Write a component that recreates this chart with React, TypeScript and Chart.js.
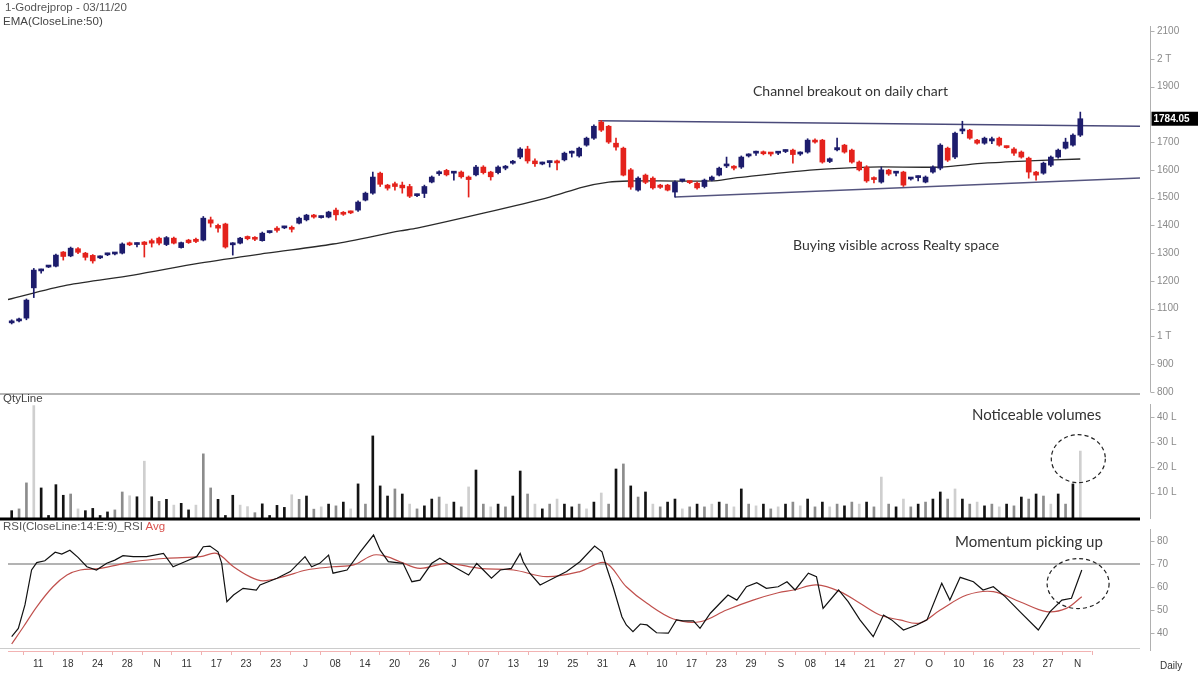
import React, { useEffect, useRef } from "react";
import { Chart, registerables } from "chart.js";
Chart.register(...registerables);

// ---------- DATA ----------
const opens = [1049,1056,1066,1175,1236,1250,1253,1304,1290,1316,1300,1292,1283,1294,1297,1300,1336,1331,1340,1345,1354,1331,1354,1320,1347,1350,1347,1420,1400,1405,1330,1336,1360,1357,1345,1374,1390,1391,1392,1408,1420,1436,1428,1430,1455,1446,1450,1455,1491,1516,1588,1545,1550,1545,1540,1507,1515,1556,1586,1598,1588,1592,1574,1582,1610,1592,1590,1606,1624,1646,1675,1632,1621,1626,1632,1636,1660,1650,1689,1714,1772,1757,1696,1678,1600,1527,1581,1570,1545,1545,1520,1560,1558,1552,1540,1563,1581,1614,1612,1610,1650,1660,1664,1660,1660,1666,1671,1657,1664,1707,1707,1630,1672,1689,1671,1628,1610,1572,1556,1599,1588,1592,1567,1572,1556,1592,1606,1678,1646,1740,1743,1707,1696,1704,1714,1684,1675,1664,1642,1592,1588,1617,1646,1678,1689,1725];
const highs = [1060,1066,1135,1245,1243,1256,1297,1306,1322,1320,1303,1295,1290,1300,1303,1337,1340,1337,1342,1351,1358,1360,1358,1340,1350,1354,1432,1430,1405,1408,1338,1357,1362,1360,1376,1380,1396,1397,1398,1430,1440,1440,1434,1451,1462,1450,1452,1488,1520,1592,1592,1548,1556,1556,1548,1513,1545,1578,1596,1602,1594,1596,1578,1616,1615,1595,1614,1616,1634,1680,1685,1640,1628,1632,1635,1664,1668,1682,1718,1762,1778,1760,1714,1682,1605,1575,1585,1575,1548,1548,1560,1566,1560,1556,1567,1578,1610,1646,1615,1650,1658,1668,1668,1662,1665,1672,1675,1665,1712,1712,1710,1643,1714,1692,1675,1632,1615,1575,1610,1602,1595,1595,1573,1578,1578,1614,1694,1682,1736,1775,1746,1710,1718,1718,1718,1686,1680,1668,1646,1595,1628,1650,1675,1714,1730,1808];
const lows = [1045,1052,1060,1140,1228,1248,1250,1275,1287,1298,1275,1264,1280,1291,1294,1297,1327,1322,1286,1322,1330,1327,1333,1318,1335,1338,1344,1394,1376,1318,1293,1333,1348,1345,1343,1372,1376,1388,1376,1405,1416,1426,1426,1427,1419,1436,1442,1450,1488,1512,1540,1527,1527,1516,1500,1503,1500,1553,1580,1578,1563,1570,1502,1578,1585,1563,1585,1600,1620,1640,1624,1612,1618,1610,1600,1632,1646,1646,1685,1710,1738,1695,1671,1578,1530,1523,1550,1530,1533,1524,1502,1556,1550,1530,1535,1560,1578,1608,1600,1605,1646,1652,1654,1650,1655,1662,1624,1652,1660,1696,1624,1626,1668,1660,1624,1596,1555,1553,1552,1580,1578,1540,1563,1560,1553,1588,1600,1630,1640,1730,1710,1692,1692,1694,1685,1678,1652,1642,1570,1563,1584,1612,1642,1675,1685,1720];
const closes = [1056,1063,1131,1239,1240,1254,1293,1288,1318,1303,1285,1272,1287,1298,1301,1333,1330,1335,1331,1336,1336,1356,1336,1338,1338,1342,1426,1408,1390,1322,1336,1354,1352,1350,1372,1378,1382,1395,1386,1426,1437,1430,1432,1448,1438,1440,1445,1484,1516,1574,1548,1534,1540,1535,1505,1511,1540,1574,1590,1582,1592,1575,1565,1610,1590,1575,1610,1612,1630,1675,1632,1622,1626,1630,1625,1660,1664,1678,1714,1757,1743,1700,1682,1581,1538,1570,1555,1535,1537,1527,1556,1564,1554,1535,1563,1574,1606,1620,1606,1646,1655,1664,1658,1657,1663,1670,1655,1662,1707,1700,1628,1640,1680,1664,1628,1600,1560,1565,1600,1585,1592,1545,1571,1576,1574,1610,1689,1635,1732,1745,1714,1696,1714,1712,1689,1680,1660,1646,1592,1581,1624,1646,1671,1700,1725,1784.05];

// volume in lakhs, and its shade class (0 black, 1 grey, 2 light grey)
const volumes = [2.9,3.6,13.9,44.5,11.9,1.0,13.2,9.0,9.5,3.6,2.9,3.8,1.0,2.4,3.2,10.3,8.8,8.4,22.5,8.4,6.6,7.4,5.1,5.8,3.2,5.1,25.4,11.9,7.4,1.0,9.0,5.1,4.5,2.1,5.6,1.0,5.0,4.2,9.2,7.4,8.7,3.5,4.4,5.5,4.8,6.3,3.6,13.5,5.5,32.5,12.7,8.7,11.5,9.5,5.5,3.6,4.8,7.5,8.3,5.5,6.3,4.4,12.3,19.0,5.5,4.4,5.5,4.4,8.7,18.6,9.5,5.5,3.6,5.5,7.5,5.5,4.4,5.5,3.6,6.3,9.9,5.5,19.4,21.4,12.7,8.3,10.3,5.5,4.4,6.3,7.5,3.6,4.4,5.5,4.4,5.5,6.3,5.5,4.4,11.5,5.5,4.8,5.5,3.6,4.4,5.5,6.3,4.8,7.5,4.4,6.3,4.4,5.5,4.8,6.3,5.5,6.3,4.4,16.2,5.5,4.4,7.5,4.4,5.5,6.3,7.5,10.3,7.5,11.5,7.5,5.5,6.3,4.8,5.5,4.4,5.5,4.8,8.3,7.5,9.5,8.7,5.5,9.5,5.5,13.5,26.5];
const volumeShade = [0,1,1,2,0,0,0,0,1,2,0,0,0,0,1,1,2,0,2,0,1,0,2,0,0,2,1,1,0,0,0,2,2,1,0,0,0,0,2,1,0,1,2,0,1,0,2,0,1,0,0,0,1,0,2,1,0,0,1,2,0,1,2,0,1,2,0,1,0,0,1,2,0,1,2,0,0,1,2,0,2,1,0,1,0,1,0,2,1,0,0,2,1,0,1,2,0,1,2,0,1,2,0,1,2,0,1,2,0,1,0,2,1,0,1,2,0,1,2,1,0,2,1,0,1,0,0,1,2,0,1,2,0,1,2,0,1,0,1,0,1,2,0,1,0,2];

// EMA(50) read at [candle index, price]
const emaPoints = [[-0.5,1133],[7.5,1185],[16.5,1221],[25.5,1264],[34.6,1300],[43.6,1333],[52.7,1380],[55,1390],[64,1444],[73,1502],[77.5,1538],[81,1556],[84,1560],[88,1560],[95,1560],[98,1570],[108.3,1599],[116.5,1610],[126,1610],[132,1624],[138,1632],[145,1639]];
// channel lines [candle index, price]
const channelTop = [[79.6,1777],[153.1,1757]];
const channelBottom = [[90,1502],[153.1,1571]];

// RSI(14) and its 9-period average, [candle index, value]
const rsiPoints = [[0,38.4],[0.9,42],[1.8,52.2],[2.7,67.4],[3.4,70.6],[4.5,71.4],[5.9,75.1],[6.8,74.3],[7.9,76],[9,72.9],[10.2,68.8],[11.5,67.4],[12.9,70.3],[14,71.7],[15.1,73.6],[16.5,73.2],[18.3,73.2],[20.6,74.6],[21.9,68.8],[23.5,71],[25.1,73.2],[26,77.5],[26.9,77.8],[28,75.3],[28.5,70.3],[28.8,63],[29.2,53.6],[30.1,56.5],[31.4,59.4],[33.2,58.7],[33.7,60.9],[36,63.8],[37.8,66.7],[39.8,73.2],[40.7,68.8],[41.8,70.3],[43,73.9],[43.6,66],[45.5,67.4],[47.3,75.3],[49.1,82.6],[50,76],[51.1,71],[53.1,70.3],[54.3,62.3],[55.4,63],[57,70.3],[58.1,72.5],[59.2,70.3],[60.8,67.4],[62,65.2],[63.1,70.3],[64,67.4],[65.1,63.8],[66.3,67.4],[67.8,68.1],[69,74.6],[69.4,71],[70.3,66],[71.7,60.9],[73.5,63.8],[75.3,66.7],[77.1,71],[79.1,77.8],[80.1,75.3],[80.7,68.8],[81.6,60.1],[82.8,47.1],[83.4,43.5],[84.3,40.6],[85.3,43.9],[86.2,43.5],[87.5,40.1],[89.1,39.9],[90.2,45.7],[91.1,45.3],[92.5,45.3],[93.4,42],[94.8,48.6],[96.3,53.6],[97.2,56.5],[98.4,54.3],[99.7,60.1],[101.1,61.9],[102.4,59.4],[104,60.1],[105.2,62.3],[106.3,58.7],[108.1,66],[109.2,64.5],[110.1,50.7],[112.2,58.7],[113.5,53.6],[115.1,45.7],[116.9,38.4],[118.3,47.8],[119.4,45.7],[121,41.3],[122.8,43.5],[124.2,45.7],[126.2,61.6],[127.3,54.3],[128.7,64.2],[130.5,62.3],[131.8,58.7],[133.2,60.1],[134.8,55.8],[136.8,49.3],[139.3,41.3],[140.9,49.3],[142.5,54.3],[143.8,55.1],[145.2,67.4]];
const rsiAvgPoints = [[0,35.2],[1.6,42.7],[3.4,51.4],[5.6,60.1],[7.5,65.2],[9.3,67.4],[12,68.1],[16.5,71],[21,72.5],[25.6,73.2],[27.8,74.6],[30.1,68.8],[32.3,64.5],[34.1,62.7],[36.9,64.5],[40,67.4],[43.6,68.8],[46.4,69.6],[49.1,73.9],[50.9,73.2],[52.7,71],[55.4,68.1],[59,70.3],[63.5,68.1],[68.1,67.4],[72.6,64.5],[77.1,66.7],[80.5,70.6],[83.4,60.1],[86.2,52.9],[89.8,46.1],[93.4,44.9],[97,50],[100.6,54.3],[104,57.5],[106.1,58.7],[109.2,60.9],[112.4,58],[115.1,52.9],[117.8,47.8],[120.5,45.7],[123.2,44.3],[126,50],[129.6,56.5],[133.2,58],[136.8,53.6],[140.4,49.3],[143.1,50.7],[145.2,55.8]];
const rsiLevel = 70;

const dateLabels = ["11","18","24","28","N","11","17","23","23","J","08","14","20","26","J","07","13","19","25","31","A","10","17","23","29","S","08","14","21","27","O","10","16","23","27","N"];
const priceTicks = [800,900,1000,1100,1200,1300,1400,1500,1600,1700,1900,2000,2100];
const volumeTicks = [10,20,30,40];
const rsiTicks = [40,50,60,70,80];

// ---------- STYLE ----------
const BULL = "#1d1c6c";
const BEAR = "#e4221c";
const SHADES = ["#141414", "#8c8c8c", "#cfcfcf"];
const X_MIN = -0.5;
const X_MAX = 153.1;
const TICK_FONT = { family: "'Liberation Sans', Arial, sans-serif", size: 10 };

function candleColor(i: number) {
  return closes[i] >= opens[i] ? BULL : BEAR;
}
const pts = (arr: number[][]) => arr.map(([x, y]) => ({ x, y }));

const noPad = (s: any) => {
  s.paddingTop = 0; s.paddingBottom = 0; s.paddingLeft = 0; s.paddingRight = 0;
};

const decor = {
  id: "decor",
  afterDraw(chart: any) {
    const { ctx, chartArea, scales } = chart;
    const xs = scales.x, yP = scales.yP, yV = scales.yV, yR = scales.yR;
    const line = (x1: number, y1: number, x2: number, y2: number) => {
      ctx.beginPath(); ctx.moveTo(x1, y1); ctx.lineTo(x2, y2); ctx.stroke();
    };
    ctx.save();
    // panel separators
    ctx.strokeStyle = "#b5b5b5"; ctx.lineWidth = 2;
    line(0, yP.bottom, chartArea.right, yP.bottom);
    ctx.strokeStyle = "#000"; ctx.lineWidth = 3;
    line(0, yV.bottom, chartArea.right, yV.bottom);
    ctx.strokeStyle = "#cccccc"; ctx.lineWidth = 1;
    line(0, yR.bottom - 2.5, chartArea.right, yR.bottom - 2.5);
    ctx.strokeStyle = "#f2b3b3"; ctx.lineWidth = 1;
    line(chartArea.left, yR.bottom + 0.5, xs.getPixelForValue(146.5), yR.bottom + 0.5);

    // right axis lines with small tick marks
    const ax = chartArea.right + 10.5;
    const axes: [any, number, number][] = [[yP, 18, 2], [yV, 10, 0], [yR, 10, 0]];
    ctx.strokeStyle = "#b0b0b0"; ctx.lineWidth = 1;
    for (const [s, t, b] of axes) {
      line(ax, s.top + t, ax, s.bottom - b);
      for (const tk of s.ticks) {
        const py = Math.round(s.getPixelForValue(tk.value)) + 0.5;
        line(ax, py, ax + 4, py);
      }
    }

    // last price label
    const last = closes[closes.length - 1];
    const py = yP.getPixelForValue(last);
    ctx.fillStyle = "#000";
    ctx.fillRect(ax + 1, py - 7, 1198 - ax - 1, 14);
    ctx.fillStyle = "#fff";
    ctx.font = "bold 10px 'Liberation Sans', Arial, sans-serif";
    ctx.textBaseline = "middle";
    ctx.textAlign = "left";
    ctx.fillText(last.toFixed(2), ax + 3, py + 0.5);

    // dashed ellipses
    ctx.strokeStyle = "#222"; ctx.lineWidth = 1.2; ctx.setLineDash([4, 3]);
    ctx.beginPath();
    ctx.ellipse(xs.getPixelForValue(145) - 2, yV.getPixelForValue(23.5), 27, 24, 0, 0, Math.PI * 2);
    ctx.stroke();
    ctx.beginPath();
    ctx.ellipse(xs.getPixelForValue(144.7), yR.getPixelForValue(61.5), 31, 25, 0, 0, Math.PI * 2);
    ctx.stroke();
    ctx.restore();
  },
};

export default function App() {
  const ref = useRef<HTMLCanvasElement | null>(null);

  useEffect(() => {
    if (!ref.current) return;
    const idx = opens.map((_, i) => i);
    const chart = new Chart(ref.current, {
      type: "bar",
      data: {
        datasets: [
          {
            type: "bar", label: "body", yAxisID: "yP", grouped: false,
            data: idx.map((i) => ({ x: i, y: [opens[i], closes[i]] })) as any,
            backgroundColor: idx.map(candleColor), barThickness: 5, minBarLength: 2,
          },
          {
            type: "bar", label: "wick", yAxisID: "yP", grouped: false,
            data: idx.map((i) => ({ x: i, y: [lows[i], highs[i]] })) as any,
            backgroundColor: idx.map(candleColor), barThickness: 1,
          },
          {
            type: "line", label: "EMA", yAxisID: "yP", data: pts(emaPoints) as any,
            borderColor: "#2a2a2a", borderWidth: 1.3, pointRadius: 0, tension: 0.3,
          },
          {
            type: "line", label: "top", yAxisID: "yP", data: pts(channelTop) as any,
            borderColor: "#4a4a7a", borderWidth: 1.5, pointRadius: 0,
          },
          {
            type: "line", label: "bottom", yAxisID: "yP", data: pts(channelBottom) as any,
            borderColor: "#55557f", borderWidth: 1.5, pointRadius: 0,
          },
          {
            type: "bar", label: "vol", yAxisID: "yV", grouped: false,
            data: idx.map((i) => ({ x: i, y: volumes[i] })) as any,
            backgroundColor: idx.map((i) => SHADES[volumeShade[i]]), barThickness: 2,
          },
          {
            type: "line", label: "RSI", yAxisID: "yR", data: pts(rsiPoints) as any,
            borderColor: "#111", borderWidth: 1.2, pointRadius: 0, tension: 0,
          },
          {
            type: "line", label: "RSI Avg", yAxisID: "yR", data: pts(rsiAvgPoints) as any,
            borderColor: "#c0504d", borderWidth: 1.2, pointRadius: 0, tension: 0.35,
          },
          {
            type: "line", label: "level", yAxisID: "yR",
            data: [{ x: X_MIN, y: rsiLevel }, { x: X_MAX, y: rsiLevel }] as any,
            borderColor: "#9a9a9a", borderWidth: 1.5, pointRadius: 0,
          },
        ],
      },
      options: {
        animation: false,
        responsive: false,
        maintainAspectRatio: false,
        events: [],
        layout: { padding: { left: 8, top: 8, right: 0, bottom: 0 } },
        plugins: { legend: { display: false }, tooltip: { enabled: false } },
        scales: {
          x: {
            type: "linear", min: X_MIN, max: X_MAX, offset: false,
            grid: { display: true, drawOnChartArea: false, drawTicks: true, tickLength: 4, color: "#f0b0b0" },
            border: { display: false },
            afterBuildTicks: (s: any) => { s.ticks = dateLabels.map((_, k) => ({ value: 3.6 + 4.03 * k })); },
            afterFit: (s: any) => { s.height = 24; noPad(s); },
            ticks: {
              autoSkip: false, maxRotation: 0, padding: 3, color: "#333", font: TICK_FONT,
              callback: (_v: any, i: number) => dateLabels[i],
            },
          },
          yP: {
            type: "linear", position: "right", stack: "panels", stackWeight: 386,
            min: 792.8, max: 2182.8,
            grid: { display: false, drawTicks: false }, border: { display: false },
            afterBuildTicks: (s: any) => { s.ticks = priceTicks.map((v) => ({ value: v })); },
            afterFit: (s: any) => { s.width = 58; noPad(s); },
            ticks: {
              padding: 17, color: "#8a8a8a", font: TICK_FONT,
              callback: (v: any) => (v === 1000 ? "1 T" : v === 2000 ? "2 T" : String(v)),
            },
          },
          yV: {
            type: "linear", position: "right", stack: "panels", stackWeight: 125,
            min: -0.4, max: 49.1,
            grid: { display: false, drawTicks: false }, border: { display: false },
            afterBuildTicks: (s: any) => { s.ticks = volumeTicks.map((v) => ({ value: v })); },
            afterFit: (s: any) => { s.width = 58; noPad(s); },
            ticks: { padding: 17, color: "#8a8a8a", font: TICK_FONT, callback: (v: any) => `${v} L` },
          },
          yR: {
            type: "linear", position: "right", stack: "panels", stackWeight: 132,
            min: 32.17, max: 89.57,
            grid: { display: false, drawTicks: false }, border: { display: false },
            afterBuildTicks: (s: any) => { s.ticks = rsiTicks.map((v) => ({ value: v })); },
            afterFit: (s: any) => { s.width = 58; noPad(s); },
            ticks: { padding: 17, color: "#8a8a8a", font: TICK_FONT, callback: (v: any) => String(v) },
          },
        },
      } as any,
      plugins: [decor],
    });
    return () => chart.destroy();
  }, []);

  const small: React.CSSProperties = {
    position: "absolute", fontFamily: "'Liberation Sans', Arial, sans-serif",
    fontSize: 11.5, color: "#555", whiteSpace: "nowrap", lineHeight: "13px",
  };
  const note: React.CSSProperties = {
    position: "absolute", fontFamily: "Lato, 'Open Sans', sans-serif",
    color: "#333", whiteSpace: "nowrap", lineHeight: "18px",
  };

  return (
    <div style={{ position: "absolute", left: 0, top: 0, width: 1198, height: 675, background: "#fff", overflow: "hidden" }}>
      <canvas ref={ref} width={1198} height={675} style={{ position: "absolute", left: 0, top: 0, width: 1198, height: 675 }} />
      <div style={{ ...small, left: 5, top: 1 }}>1-Godrejprop - 03/11/20</div>
      <div style={{ ...small, left: 3, top: 15, color: "#444" }}>EMA(CloseLine:50)</div>
      <div style={{ ...small, left: 3, top: 392, color: "#444" }}>QtyLine</div>
      <div style={{ ...small, left: 3, top: 520, color: "#555" }}>
        RSI(CloseLine:14:E:9)_RSI <span style={{ color: "#d9534f" }}>Avg</span>
      </div>
      <div style={{ ...small, fontSize: 10, left: 1160, top: 659, color: "#333" }}>Daily</div>
      <div style={{ ...note, left: 753, top: 82, fontSize: 14 }}>Channel breakout on daily chart</div>
      <div style={{ ...note, left: 793, top: 236, fontSize: 14 }}>Buying visible across Realty space</div>
      <div style={{ ...note, left: 972, top: 405, fontSize: 15 }}>Noticeable volumes</div>
      <div style={{ ...note, left: 955, top: 532, fontSize: 15 }}>Momentum picking up</div>
    </div>
  );
}
